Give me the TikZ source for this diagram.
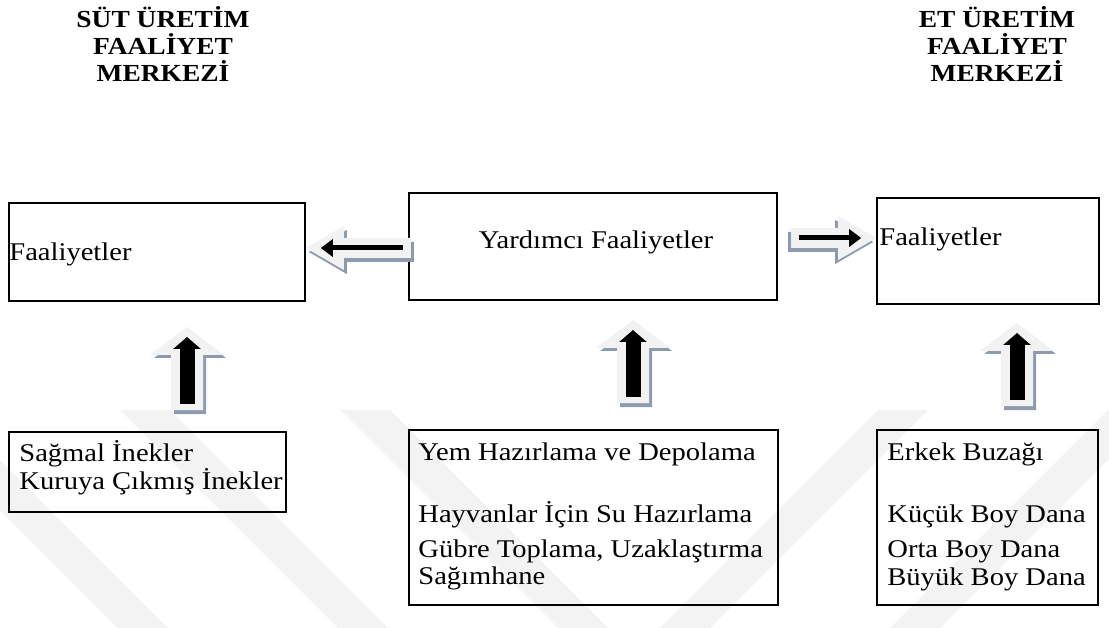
\documentclass[tikz,border=0pt]{standalone}
\usepackage{fontspec}
\setmainfont{Liberation Serif}[FakeStretch=1.12]
\usetikzlibrary{arrows.meta,calc}
\definecolor{shadowc}{HTML}{8E9AAE}
\definecolor{arrfill}{HTML}{F2F2F2}
\definecolor{wm}{HTML}{F3F3F3}
\begin{document}
\begin{tikzpicture}[x=1pt,y=-1pt,
  box/.style={draw=black, line width=1.6pt, inner sep=0pt},
  txt/.style={font=\fontsize{25.5}{27}\selectfont, inner sep=0pt, anchor=base west},
  ttl/.style={font=\fontsize{24.5}{26}\selectfont\bfseries, inner sep=0pt, anchor=base},
  band/.style={fill=wm, draw=none},
  pics/upblock/.style={code={
    \fill[shadowc] (3,4) -- (39,31) -- (19,31) -- (19,87) -- (-13,87) -- (-13,31) -- (-33,31) -- cycle;
    \fill[arrfill] (0,0) -- (37,28) -- (16,28) -- (16,83) -- (-16,83) -- (-16,28) -- (-37,28) -- cycle;
    \draw[line width=15pt, -{Triangle[width=27pt,length=12pt]}] (0,77) -- (0,10);
  }},
  pics/hblock/.style={code={
    \fill[shadowc] (3,4) -- (41,-18) -- (41,-6) -- (#1+3,-6) -- (#1+3,14) -- (41,14) -- (41,26) -- cycle;
    \fill[arrfill] (0,0) -- (38,-22) -- (38,-10) -- (#1,-10) -- (#1,10) -- (38,10) -- (38,22) -- cycle;
    \draw[line width=5pt, -{Triangle[width=17pt,length=12pt]}] (#1-8,0) -- (15,0);
  }}
]
\useasboundingbox (0,0) rectangle (1109,628);
\fill[white] (0,0) rectangle (1109,628);

% watermark bands
\begin{scope}
\clip (0,410) rectangle (1109,628);
\foreach \s in {-100,120,340} {
  \fill[band] (\s,410) -- (\s+50,410) -- (\s+50+218,628) -- (\s+218,628) -- cycle;
}
\foreach \s in {660,890} {
  \fill[band] (\s,628) -- (\s+50,628) -- (\s+50+218,410) -- (\s+218,410) -- cycle;
}
\end{scope}

% titles
\node[ttl] (t1a) at (163,27.5) {SÜT ÜRETİM};
\node[ttl] (t1b) at (163,54.5) {FAALİYET};
\node[ttl] (t1c) at (163,81.5) {MERKEZİ};
\node[ttl] (t2a) at (997,27.5) {ET ÜRETİM};
\node[ttl] (t2b) at (997,54.5) {FAALİYET};
\node[ttl] (t2c) at (997,81.5) {MERKEZİ};

% top boxes
\node[box, minimum width=296pt, minimum height=98pt] (lt) at (157,252) {};
\node[box, minimum width=368pt, minimum height=107pt] (mt) at (593,246.5) {};
\node[box, minimum width=222pt, minimum height=106pt] (rt) at (988,251) {};
\node[txt] (ltx) at ($(lt.west)+(1,9)$) {Faaliyetler};
\node[txt, anchor=base] (mtx) at ($(mt.center)+(3,2)$) {Yardımcı Faaliyetler};
\node[txt] (rtx) at ($(rt.west)+(3,-5)$) {Faaliyetler};

% bottom boxes
\node[box, minimum width=277pt, minimum height=80pt] (lb) at (147.5,472) {};
\node[box, minimum width=369pt, minimum height=175pt] (mb) at (593.5,517.5) {};
\node[box, minimum width=221pt, minimum height=175pt] (rb) at (987.5,517.5) {};

\node[txt] (lb1) at ($(lb.north west)+(11,30)$) {Sağmal İnekler};
\node[txt] (lb2) at ($(lb.north west)+(11,58)$) {Kuruya Çıkmış İnekler};

\node[txt] (mb1) at ($(mb.north west)+(10,31)$) {Yem Hazırlama ve Depolama};
\node[txt] (mb2) at ($(mb.north west)+(10,93)$) {Hayvanlar İçin Su Hazırlama};
\node[txt] (mb3) at ($(mb.north west)+(10,128)$) {Gübre Toplama, Uzaklaştırma};
\node[txt] (mb4) at ($(mb.north west)+(10,155)$) {Sağımhane};

\node[txt] (rb1) at ($(rb.north west)+(11,31)$) {Erkek Buzağı};
\node[txt] (rb2) at ($(rb.north west)+(11,93)$) {Küçük Boy Dana};
\node[txt] (rb3) at ($(rb.north west)+(11,128)$) {Orta Boy Dana};
\node[txt] (rb4) at ($(rb.north west)+(11,156)$) {Büyük Boy Dana};

% block arrows
\coordinate (upL) at (187,327);
\coordinate (upM) at (633,320);
\coordinate (upR) at (1017,323);
\pic at (upL) {upblock};
\pic at (upM) {upblock};
\pic at (upR) {upblock};

\coordinate (lfTip) at (lt.east |- 0,248);
\pic at (lfTip) {hblock=105};
\coordinate (rtTip) at (rt.west |- 0,238);
\pic[xscale=-1] at (rtTip) {hblock=85};
\end{tikzpicture}
\end{document}
